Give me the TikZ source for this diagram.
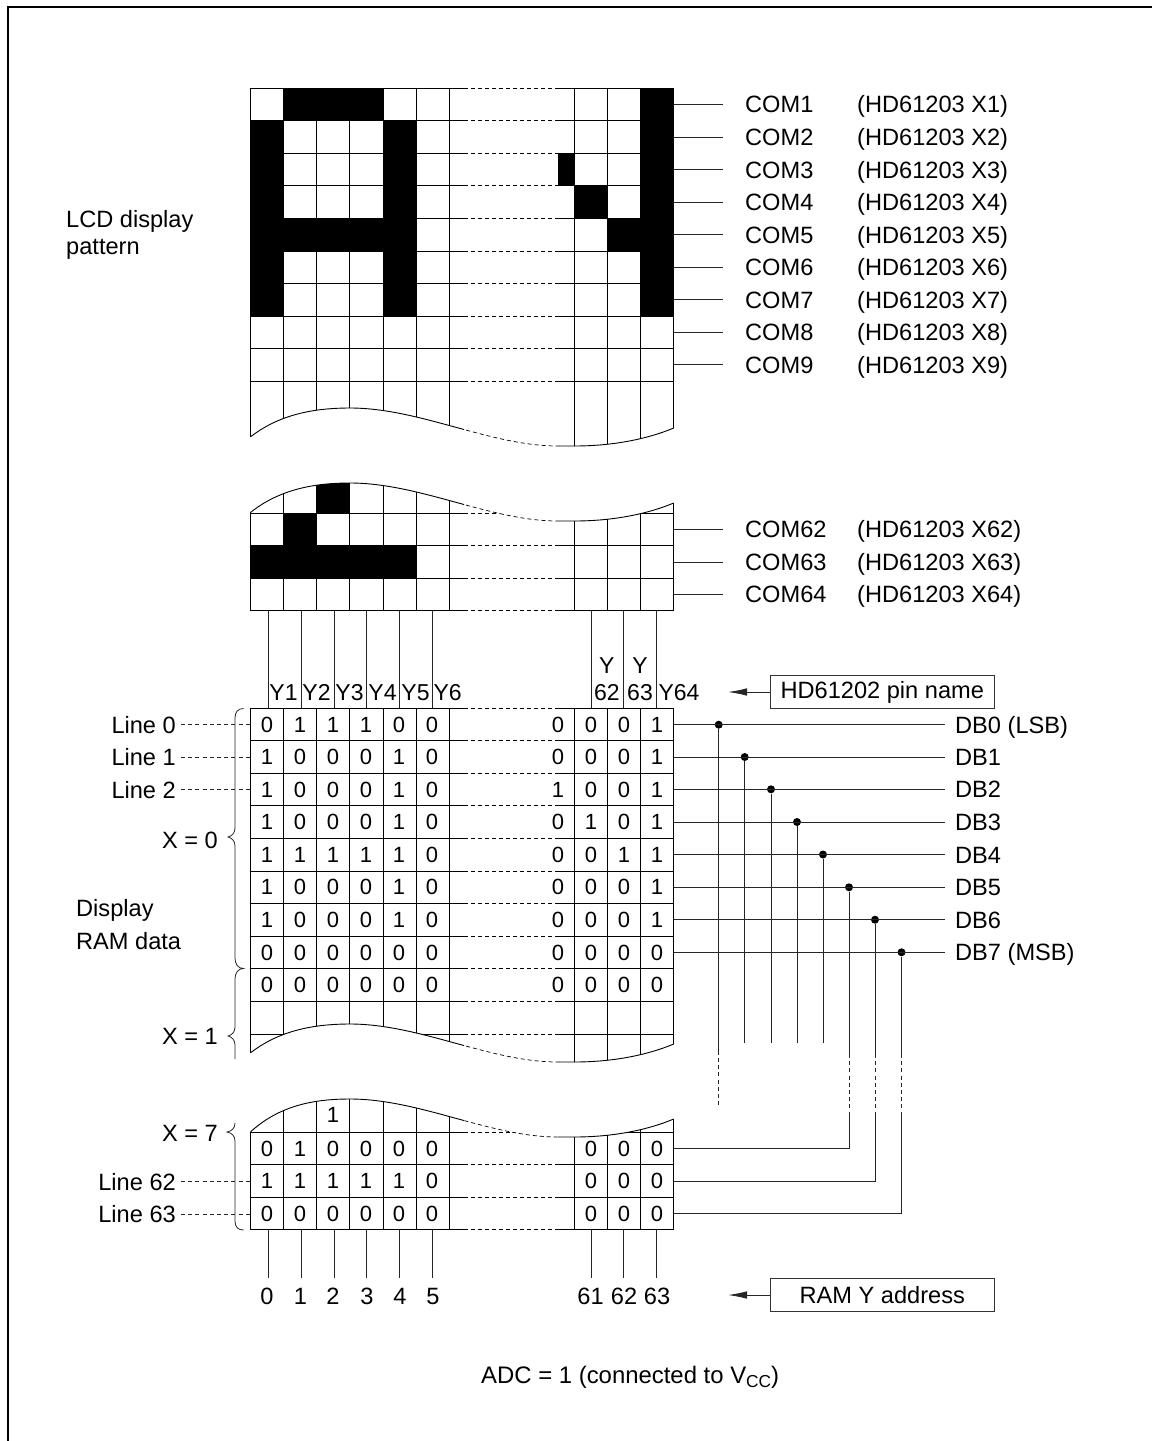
\documentclass[tikz,border=0pt]{standalone}
\usepackage{fontspec}
\setmainfont{Liberation Sans}
\usetikzlibrary{arrows.meta}
\newcommand{\wv}[2]{(250.7,#2) .. controls (280,#1+414) and (315,#1+408) .. (350,#1+408) .. controls (420,#1+408) and (490,#1+446) .. (558,#1+446) -- (574.3,#1+446) .. controls (610,#1+446) and (645,#1+440) .. (673.7,#1+428)}
\newcommand{\colxs}{250.7,283.6,316.7,349.8,383,416,449,574.3,607.6,640.7,673.7}
\newcommand{\gridlines}[4]{%
  \foreach \cx in \colxs {\draw[gl] (\cx,#3) -- (\cx,#4);}
  \foreach \r in {0,...,#2} {
    \pgfmathsetmacro{\yy}{#1+\r*32.6}
    \draw[gl] (250.7,\yy) -- (464,\yy);
    \draw[gd] (464,\yy) -- (558,\yy);
    \draw[gl] (558,\yy) -- (673.7,\yy);
  }}
\newcommand{\wavedraw}[2]{%
  \begin{scope}\clip (240,0) rectangle (464,1441); \draw[wl] \wv{#1}{#2}; \end{scope}
  \begin{scope}\clip (464,0) rectangle (558,1441); \draw[wd] \wv{#1}{#2}; \end{scope}
  \begin{scope}\clip (558,0) rectangle (690,1441); \draw[wl] \wv{#1}{#2}; \end{scope}}
\newcommand{\blk}[4]{\fill[black] (#1,#2) rectangle (#3,#4);}
\tikzset{
  gl/.style={line width=1.0pt,black},
  gd/.style={line width=1.0pt,black,dash pattern=on 4pt off 3pt},
  wl/.style={line width=0.9pt,black},
  wd/.style={line width=0.7pt,black,dash pattern=on 4pt off 3pt},
  thinl/.style={line width=0.9pt,black!85},
  dotl/.style={line width=0.8pt,black!85,dash pattern=on 4pt off 3.2pt},
  brc/.style={line width=0.8pt,black!85},
  lab/.style={inner sep=0pt,font=\fontsize{23.6}{27}\selectfont,text height=17pt,text depth=0pt},
  cell/.style={inner sep=0pt,font=\fontsize{22}{25}\selectfont},
  boxn/.style={draw=black!80,line width=0.9pt,inner sep=0pt,minimum width=224pt,minimum height=32.6pt,font=\fontsize{23.6}{27}\selectfont},
  jdot/.style={circle,fill=black,inner sep=0pt,minimum size=8pt},
  arr/.style={line width=0.9pt,black!85,-{Latex[length=19pt,width=7.5pt]}}
}
\begin{document}
\begin{tikzpicture}[x=1pt,y=-1pt]
\useasboundingbox (0,0) rectangle (1152,1441);
% frame
\draw[line width=1.2pt,black] (8,1441) -- (8,6.9) -- (1152,6.9);

% ---- upper LCD grid
\begin{scope}
 \clip \wv{0}{436.7} -- (673.7,88) -- (250.7,88) -- cycle;
 \blk{283.6}{88}{383}{120.6}
 \blk{250.7}{120.6}{283.6}{315.7}
 \blk{383}{120.6}{416}{315.7}
 \blk{250.7}{218}{416}{250.7}
 \blk{640.7}{88}{673.7}{315.7}
 \blk{558}{153}{574.3}{186}
 \blk{574.3}{185.7}{607.6}{218}
 \blk{607.6}{218}{673.7}{250.7}
 \gridlines{88}{9}{88}{460}
\end{scope}
\wavedraw{0}{436.7}
\draw[gl] (250.7,88) -- (250.7,436.7);
\draw[gl] (673.7,88) -- (673.7,428);

% ---- middle LCD grid
\begin{scope}
 \clip \wv{75}{512.3} -- (673.7,611) -- (250.7,611) -- cycle;
 \blk{316.7}{470}{349.8}{513}
 \blk{283.6}{513}{316.7}{546}
 \blk{250.7}{546}{416}{578.5}
 \gridlines{513}{3}{470}{611}
\end{scope}
\wavedraw{75}{512.3}
\draw[gl] (250.7,512.3) -- (250.7,611);
\draw[gl] (673.7,503) -- (673.7,611);

% ---- RAM grid upper
\begin{scope}
 \clip \wv{616}{1052.7} -- (673.7,708) -- (250.7,708) -- cycle;
 \gridlines{708}{10}{708}{1080}
\end{scope}
\wavedraw{616}{1052.7}
\draw[gl] (250.7,708) -- (250.7,1052.7);
\draw[gl] (673.7,708) -- (673.7,1044);

% ---- RAM grid lower
\begin{scope}
 \clip \wv{691}{1131.7} -- (673.7,1230) -- (250.7,1230) -- cycle;
 \gridlines{1132}{3}{1090}{1230}
\end{scope}
\wavedraw{691}{1131.7}
\draw[gl] (250.7,1131.7) -- (250.7,1230);
\draw[gl] (673.7,1119) -- (673.7,1230);

% ---- COM labels and lines
\foreach \i/\y in {1/104.3,2/137,3/169.5,4/202,5/234.5,6/267,7/299.6,8/332.3,9/364.9,62/529.3,63/562,64/594.4} {
  \coordinate (cs\i) at (673.7,\y);
  \node[lab,anchor=west] (com\i) at (745,\y) {COM\i};
  \draw[thinl,shorten >=22pt] (cs\i) -- (com\i.west);
  \node[lab,anchor=west] (hd\i) at (857,\y) {(HD61203 X\i)};
}

% ---- Y pin lines
\foreach \i/\x in {a/268.3,b/301.3,c/334,d/366.7,e/399.3,f/432,g/591.3,h/623.7,j/656.3} {
  \coordinate (pt\i) at (\x,611);
  \coordinate (pb\i) at (\x,708);
  \draw[thinl] (pt\i) -- (pb\i);
}
\foreach \t/\x in {1/283.5,2/316.5,3/349.5,4/382.5,5/415.5,6/447.7} {
  \node[lab,font=\fontsize{23}{27}\selectfont] (y\t) at (\x,691.5) {Y\t};
}
\node[lab,font=\fontsize{23}{27}\selectfont] (yy62) at (606.8,665) {Y};
\node[lab,font=\fontsize{23}{27}\selectfont] (yn62) at (606.8,691.5) {62};
\node[lab,font=\fontsize{23}{27}\selectfont] (yy63) at (640,665) {Y};
\node[lab,font=\fontsize{23}{27}\selectfont] (yn63) at (640,691.5) {63};
\node[lab,font=\fontsize{23}{27}\selectfont] (y64) at (679,691.5) {Y64};

% ---- boxes and arrows
\node[boxn] (pinbox) at (882.3,692) {HD61202 pin name};
\node[boxn] (ybox) at (882.3,1295) {RAM Y address};
\coordinate (pinend) at (728,692);
\coordinate (yend) at (728,1295);
\draw[arr] (pinbox.west) -- (pinend);
\draw[arr] (ybox.west) -- (yend);

% ---- RAM contents
\newcommand{\rowvals}[2]{%
  \foreach \x/\v in {#2} {\node[cell] at (\x,#1) {\v};}}
\rowvals{724.5}{267/0,300/1,333/1,366/1,399/0,432/0,558/0,591/0,624/0,657/1}
\rowvals{757}{267/1,300/0,333/0,366/0,399/1,432/0,558/0,591/0,624/0,657/1}
\rowvals{789.5}{267/1,300/0,333/0,366/0,399/1,432/0,558/1,591/0,624/0,657/1}
\rowvals{822}{267/1,300/0,333/0,366/0,399/1,432/0,558/0,591/1,624/0,657/1}
\rowvals{854.5}{267/1,300/1,333/1,366/1,399/1,432/0,558/0,591/0,624/1,657/1}
\rowvals{887}{267/1,300/0,333/0,366/0,399/1,432/0,558/0,591/0,624/0,657/1}
\rowvals{920}{267/1,300/0,333/0,366/0,399/1,432/0,558/0,591/0,624/0,657/1}
\rowvals{952.5}{267/0,300/0,333/0,366/0,399/0,432/0,558/0,591/0,624/0,657/0}
\rowvals{984.5}{267/0,300/0,333/0,366/0,399/0,432/0,558/0,591/0,624/0,657/0}
\rowvals{1115}{333/1}
\rowvals{1148.5}{267/0,300/1,333/0,366/0,399/0,432/0,591/0,624/0,657/0}
\rowvals{1181}{267/1,300/1,333/1,366/1,399/1,432/0,591/0,624/0,657/0}
\rowvals{1214}{267/0,300/0,333/0,366/0,399/0,432/0,591/0,624/0,657/0}

% ---- address numbers
\foreach \t/\x in {0/267,1/300.5,2/333,3/367,4/400,5/433,61/590.5,62/624,63/657} {
  \node[lab] (ad\t) at (\x,1295.5) {\t};
}
\foreach \i/\x in {0/268.3,1/301.3,2/334,3/366.7,4/399.3,5/432,61/591.3,62/623.7,63/656.3} {
  \coordinate (at\i) at (\x,1230);
  \coordinate (ab\i) at (\x,1278);
  \draw[thinl] (at\i) -- (ab\i);
}

% ---- data bus
\foreach \i/\y/\x/\t in {0/724.7/718.7/DB0 (LSB),1/757/744.7/DB1,2/789.3/771/DB2,3/822/797/DB3,4/854.5/823/DB4,5/887.3/849/DB5,6/919.7/875/DB6,7/952.3/901.5/DB7 (MSB)} {
  \coordinate (dbs\i) at (673.7,\y);
  \node[lab,anchor=west] (db\i) at (955,\y) {\t};
  \node[jdot] (dot\i) at (\x,\y) {};
  \draw[thinl,shorten >=10pt] (dbs\i) -- (db\i.west);
}
\coordinate (d0a) at (718.7,1050.7); \coordinate (d0b) at (718.7,1105);
\draw[thinl] (dot0) -- (d0a); \draw[dotl,line width=0.7pt] (d0a) -- (d0b);
\foreach \i/\x in {1/744.7,2/771,3/797,4/823} {
  \coordinate (e\i) at (\x,1043.3);
  \draw[thinl] (dot\i) -- (e\i);
}
\foreach \i/\x/\y in {5/849/1148.3,6/875/1181,7/901.5/1213.7} {
  \coordinate (f\i) at (\x,1054);
  \coordinate (g\i) at (\x,1113);
  \coordinate (h\i) at (\x,\y);
  \coordinate (k\i) at (673.7,\y);
  \draw[thinl] (dot\i) -- (f\i);
  \draw[dotl,line width=0.7pt] (f\i) -- (g\i);
  \draw[thinl] (g\i) -- (h\i) -- (k\i);
}

% ---- Line labels
\foreach \k/\y/\t in {a/724.5/Line 0,b/757/Line 1,c/789.5/Line 2,d/1181.7/Line 62,e/1214/Line 63} {
  \node[lab,anchor=east] (ln\k) at (176,\y) {\t};
  \coordinate (lr\k) at (250.7,\y);
  \draw[dotl,shorten <=5pt] (ln\k.east) -- (lr\k);
}

% ---- braces
\draw[brc] (243.5,708.5) .. controls (238,708.5) and (235,712) .. (235,718) -- (235,828) .. controls (235,833) and (232,836) .. (228,837) .. controls (232,838) and (235,841) .. (235,846) -- (235,958) .. controls (235,964) and (238,968.5) .. (243.5,968.5) .. controls (238,968.5) and (235,973) .. (235,979) -- (235,1027) .. controls (235,1032) and (232,1035) .. (228,1036) .. controls (232,1037) and (235,1040) .. (235,1045) -- (235,1059);
\draw[brc] (235,1123) .. controls (235,1128) and (232,1131) .. (227,1132) .. controls (232,1133) and (235,1136) .. (235,1141) -- (235,1221) .. controls (235,1227) and (238,1230) .. (243.5,1230);

\node[lab,anchor=east] (x0) at (218,840) {X = 0};
\node[lab,anchor=east] (x1) at (218,1036) {X = 1};
\node[lab,anchor=east] (x7) at (218,1133) {X = 7};

% ---- titles
\node[lab,anchor=west] (t1) at (66,219) {LCD display};
\node[lab,anchor=west] (t2) at (66,245.5) {pattern};
\node[lab,anchor=west] (t3) at (76,908) {Display};
\node[lab,anchor=west] (t4) at (76,941) {RAM data};
\node[lab,anchor=west,font=\fontsize{23.9}{27}\selectfont] (adc) at (481,1375) {ADC = 1 (connected to V\raisebox{-4.4pt}{\fontsize{17.3}{18}\selectfont CC})};
\end{tikzpicture}
\end{document}
